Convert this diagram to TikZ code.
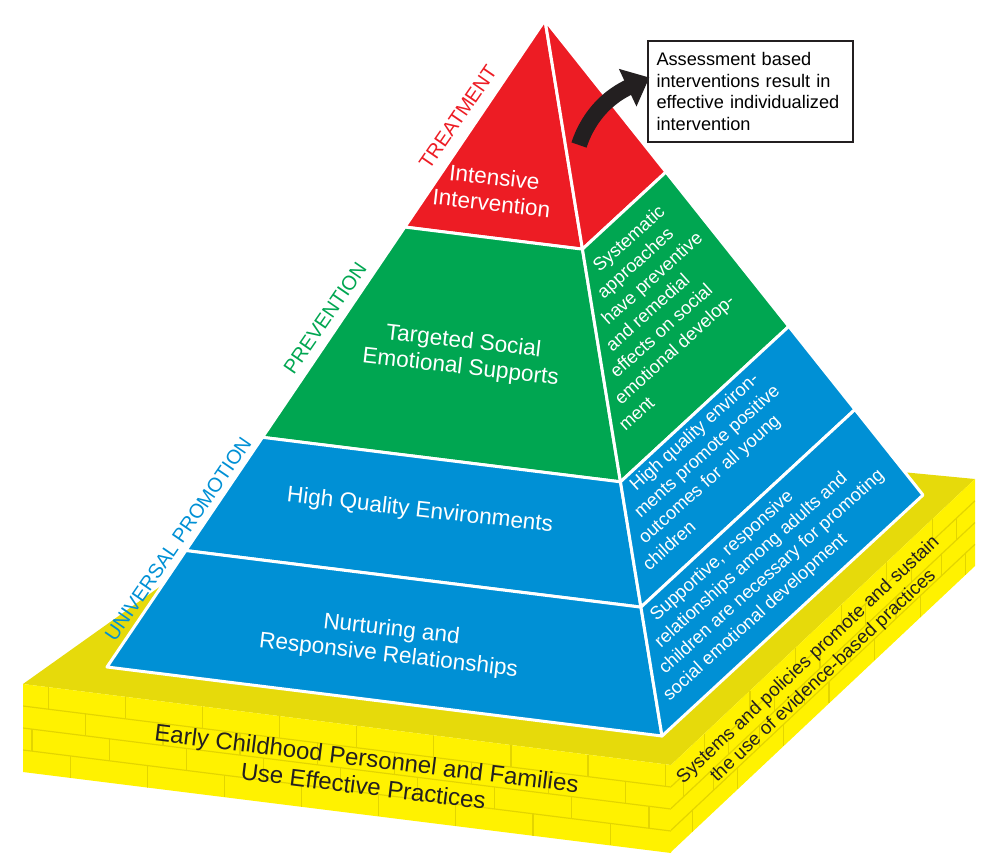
\documentclass[tikz,border=0pt]{standalone}
\usepackage{fontspec}
\setmainfont{Liberation Sans}
\usetikzlibrary{calc,arrows.meta}

\definecolor{tierred}{HTML}{ED1C24}
\definecolor{tiergreen}{HTML}{00A651}
\definecolor{tierblue}{HTML}{0090D5}
\definecolor{basetop}{HTML}{E6DA0B}
\definecolor{baseside}{HTML}{FFF200}
\definecolor{brickline}{HTML}{E3D500}
\definecolor{inkblack}{HTML}{231F20}

\tikzset{
  face/.style={draw=white, line width=1.5pt, line join=round},
  tierlabel/.style={text=white, align=center, font=\fontsize{11.3}{13}\selectfont, rotate=-6.5},
  sidelabel/.style={font=\fontsize{10}{12}\selectfont, rotate=55.5},
  facetext/.style={text=white, font=\fontsize{9.1}{11}\selectfont, rotate=42, anchor=base west, inner sep=0pt},
  basetext/.style={text=inkblack, align=center, font=\fontsize{12}{14}\selectfont},
  bricks/.style={draw=brickline, line width=0.6pt},
}

\begin{document}
\begin{tikzpicture}[x=0.5pt, y=-0.5pt]
  \useasboundingbox (0,0) rectangle (997,864);

  % base: top, front and right side with bricks
  \fill[basetop] (23,684) -- (390,423) -- (975,479) -- (671,765) -- cycle;
  \begin{scope}[shift={(23,684)}, x={(648,81)}, y={(0,88)}]
    \fill[baseside] (0,0) -- (1,0) -- (1,1) -- (0,1) -- cycle;
    \clip (0,0) -- (1,0) -- (1,1) -- (0,1) -- cycle;
    \foreach \r in {1,2,3} \draw[bricks] (0,\r/4) -- (1,\r/4);
    \foreach \r/\s in {0/0.039, 1/0.097, 2/0.014, 3/0.073}
      \foreach \k in {0,...,8}
        \draw[bricks] ({\s+\k*0.119},\r/4) -- ++(0,0.25);
  \end{scope}
  \begin{scope}[shift={(671,765)}, x={(304,-286)}, y={(0,87)}]
    \fill[baseside] (0,0) -- (1,0) -- (1,1) -- (0,1) -- cycle;
    \clip (0,0) -- (1,0) -- (1,1) -- (0,1) -- cycle;
    \foreach \r in {1,2,3} \draw[bricks] (0,\r/4) -- (1,\r/4);
    \foreach \r/\s in {0/0.11, 1/0.04, 2/0.14, 3/0.07}
      \foreach \k in {0,...,6}
        \draw[bricks] ({\s+\k*0.15},\r/4) -- ++(0,0.25);
  \end{scope}

  % pyramid corners and tier breaks
  \coordinate (apex) at (545,20);
  \coordinate (lb) at (107,667);
  \coordinate (fb) at (662,736);
  \coordinate (rb) at (923,495);
  \foreach \f [count=\i] in {0.32,0.645,0.82} {
    \coordinate (l\i) at ($(apex)!\f!(lb)$);
    \coordinate (f\i) at ($(apex)!\f!(fb)$);
    \coordinate (r\i) at ($(apex)!\f!(rb)$);
  }

  % left face
  \path[face, fill=tierred] (apex) -- (l1) -- (f1) -- cycle;
  \path[face, fill=tiergreen] (l1) -- (l2) -- (f2) -- (f1) -- cycle;
  \path[face, fill=tierblue] (l2) -- (l3) -- (f3) -- (f2) -- cycle;
  \path[face, fill=tierblue] (l3) -- (lb) -- (fb) -- (f3) -- cycle;
  % right face
  \path[face, fill=tierred] (apex) -- (f1) -- (r1) -- cycle;
  \path[face, fill=tiergreen] (f1) -- (r1) -- (r2) -- (f2) -- cycle;
  \path[face, fill=tierblue] (f2) -- (r2) -- (r3) -- (f3) -- cycle;
  \path[face, fill=tierblue] (f3) -- (r3) -- (rb) -- (fb) -- cycle;

  % tier names
  \node[tierlabel] (intensive) at (493,190) {Intensive\\Intervention};
  \node[tierlabel] (targeted) at (462,355) {Targeted Social\\Emotional Supports};
  \node[tierlabel] (quality) at (420,511) {High Quality Environments};
  \node[tierlabel] (nurturing) at (390,643) {Nurturing and\\Responsive Relationships};

  \node[sidelabel, text=tierred] (treatment) at (458,117) {TREATMENT};
  \node[sidelabel, text=tiergreen] (prevention) at (325,318) {PREVENTION};
  \node[sidelabel, text=tierblue] (universal) at (178,539) {UNIVERSAL PROMOTION};

  % notes on the right face, lines start along the front edge
  \foreach \txt [count=\i from 0] in {Systematic, approaches, have preventive, and remedial, effects on social, emotional develop-, ment}
    \node[facetext] (sys\i) at ($(apex)!{(273+26.5*\i-20)/716}!(fb) + (13,0)$) {\txt};
  \foreach \txt [count=\i from 0] in {High quality environ-, ments promote positive, outcomes for all young, children}
    \node[facetext] (env\i) at ($(apex)!{(492+26.5*\i-20)/716}!(fb) + (14,0)$) {\txt};
  \foreach \txt [count=\i from 0] in {{Supportive, responsive}, relationships among adults and, children are necessary for promoting, social emotional development}
    \node[facetext] (rel\i) at ($(apex)!{(622+26.5*\i-20)/716}!(fb) + (13,0)$) {\txt};

  % base texts
  \node[basetext, rotate=-7] (families) at (365,772) {Early Childhood Personnel and Families\\Use Effective Practices};
  \node[basetext, font=\fontsize{9.4}{11}\selectfont, rotate=43.2] (systems) at (816,668) {Systems and policies promote and sustain\\the use of evidence-based practices};

  % callout
  \node[draw=inkblack, line width=0.6pt, text width=94pt, inner xsep=4.25pt, align=left,
        minimum height=50.5pt, font=\fontsize{9.1}{10.85}\selectfont] (assess) at (750.5,91.5)
        {Assessment based\\interventions result in\\effective individualized\\intervention};
  \coordinate (arrtail) at (579,145);
  \draw[inkblack, line width=8pt, -{Triangle[length=12pt,width=20pt]}]
    (arrtail) .. controls (590,112) and (612,95) .. ([xshift=1pt,yshift=7pt]assess.west);
\end{tikzpicture}
\end{document}
